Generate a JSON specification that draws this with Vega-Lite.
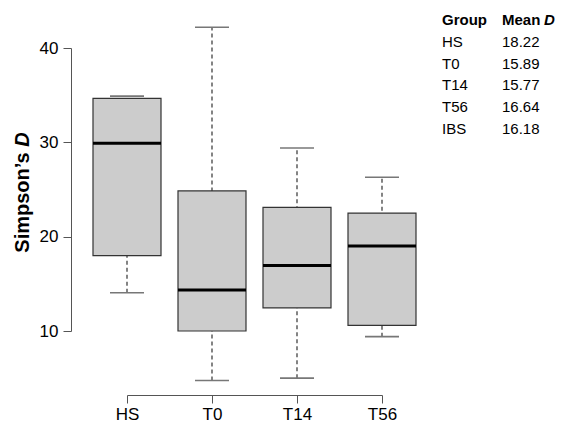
{
  "$schema": "https://vega.github.io/schema/vega-lite/v6.json",
  "width": 255,
  "height": 283,
  "autosize": {"type": "none"},
  "padding": {"left": 127, "top": 48, "right": 199, "bottom": 93},
  "background": "white",
  "config": {"view": {"stroke": null}, "font": "Liberation Sans", "tick": {"opacity": 1}},
  "datasets": {
    "boxes": [
      {"Group": "HS", "lower": 14.05, "q1": 18.0, "median": 29.9, "q3": 34.65, "upper": 34.9},
      {"Group": "T0", "lower": 4.75, "q1": 10.0, "median": 14.35, "q3": 24.85, "upper": 42.2},
      {"Group": "T14", "lower": 5.0, "q1": 12.45, "median": 16.95, "q3": 23.1, "upper": 29.4},
      {"Group": "T56", "lower": 9.4, "q1": 10.6, "median": 19.0, "q3": 22.5, "upper": 26.3}
    ],
    "means": [
      {"Group": "HS", "Mean": 18.22},
      {"Group": "T0", "Mean": 15.89},
      {"Group": "T14", "Mean": 15.77},
      {"Group": "T56", "Mean": 16.64},
      {"Group": "IBS", "Mean": 16.18}
    ],
    "header": [
      {"col": "g", "label": "Group"},
      {"col": "m", "label": "Mean"}
    ],
    "headerItalic": [
      {"col": "m", "label": "D"}
    ]
  },
  "layer": [
    {
      "data": {"name": "boxes"},
      "resolve": {"axis": {"y": "independent"}},
      "layer": [
        {
          "mark": {"type": "rule", "color": "#333333", "strokeWidth": 1.2, "strokeDash": [4, 3]},
          "encoding": {
            "x": {
              "field": "Group", "type": "nominal", "sort": ["HS", "T0", "T14", "T56"],
              "scale": {"type": "point", "padding": 0},
              "axis": {
                "orient": "bottom", "offset": 64, "title": null, "labelAngle": 0,
                "domainColor": "#555555", "tickColor": "#555555", "tickSize": 8,
                "labelFontSize": 17, "labelColor": "black", "labelPadding": 3, "grid": false
              }
            },
            "y": {
              "field": "lower", "type": "quantitative",
              "scale": {"domain": [10, 40], "nice": false, "zero": false},
              "axis": {
                "orient": "left", "offset": 56, "values": [10, 20, 30, 40], "grid": false,
                "domainColor": "#555555", "tickColor": "#555555", "tickSize": 8,
                "labelFontSize": 17, "labelColor": "black", "labelPadding": 5,
                "title": "Simpson’s", "titleFontSize": 20, "titleFontWeight": "bold",
                "titleColor": "black", "titleBaseline": "middle", "titleAngle": -90,
                "titleX": -49, "titleY": 154
              }
            },
            "y2": {"field": "upper"}
          }
        },
        {
          "mark": {"type": "tick", "color": "#777777", "thickness": 1.6, "size": 34, "opacity": 1},
          "encoding": {
            "x": {"field": "Group", "type": "nominal", "sort": ["HS", "T0", "T14", "T56"]},
            "y": {
              "field": "upper", "type": "quantitative",
              "axis": {
                "orient": "left", "offset": 56, "domain": false, "ticks": false, "labels": false, "grid": false,
                "title": "D", "titleFontSize": 20, "titleFontWeight": "bold", "titleFontStyle": "italic",
                "titleColor": "black", "titleBaseline": "middle", "titleAngle": -90,
                "titleX": -49, "titleY": 91
              }
            }
          }
        },
        {
          "mark": {"type": "tick", "color": "#777777", "thickness": 1.6, "size": 34, "opacity": 1},
          "encoding": {
            "x": {"field": "Group", "type": "nominal", "sort": ["HS", "T0", "T14", "T56"]},
            "y": {"field": "lower", "type": "quantitative", "axis": null}
          }
        },
        {
          "mark": {"type": "bar", "size": 68, "fill": "#cccccc", "stroke": "#333333", "strokeWidth": 1.2, "opacity": 1},
          "encoding": {
            "x": {"field": "Group", "type": "nominal", "sort": ["HS", "T0", "T14", "T56"]},
            "y": {"field": "q1", "type": "quantitative", "axis": null},
            "y2": {"field": "q3"}
          }
        },
        {
          "mark": {"type": "tick", "color": "black", "thickness": 3, "size": 68, "opacity": 1},
          "encoding": {
            "x": {"field": "Group", "type": "nominal", "sort": ["HS", "T0", "T14", "T56"]},
            "y": {"field": "median", "type": "quantitative", "axis": null}
          }
        }
      ]
    },
    {
      "layer": [
        {
          "data": {"name": "means"},
          "mark": {"type": "text", "align": "left", "baseline": "middle", "fontSize": 15, "color": "black"},
          "encoding": {
            "x": {"datum": "g", "type": "nominal", "scale": {"type": "point", "domain": ["g", "m"], "range": [315, 375], "padding": 0}, "axis": null},
            "y": {"field": "Group", "type": "nominal", "scale": {"type": "point", "domain": ["header", "HS", "T0", "T14", "T56", "IBS"], "range": [-28, 81], "padding": 0}, "axis": null},
            "text": {"field": "Group"}
          }
        },
        {
          "data": {"name": "means"},
          "mark": {"type": "text", "align": "left", "baseline": "middle", "fontSize": 15, "color": "black"},
          "encoding": {
            "x": {"datum": "m", "type": "nominal"},
            "y": {"field": "Group", "type": "nominal"},
            "text": {"field": "Mean", "format": ".2f"}
          }
        },
        {
          "data": {"name": "header"},
          "mark": {"type": "text", "align": "left", "baseline": "middle", "fontSize": 15, "fontWeight": "bold", "color": "black"},
          "encoding": {
            "x": {"field": "col", "type": "nominal"},
            "y": {"datum": "header", "type": "nominal"},
            "text": {"field": "label"}
          }
        },
        {
          "data": {"name": "headerItalic"},
          "mark": {"type": "text", "align": "left", "baseline": "middle", "fontSize": 15, "fontWeight": "bold", "fontStyle": "italic", "color": "black", "dx": 42},
          "encoding": {
            "x": {"field": "col", "type": "nominal"},
            "y": {"datum": "header", "type": "nominal"},
            "text": {"field": "label"}
          }
        }
      ]
    }
  ],
  "resolve": {"scale": {"x": "independent", "y": "independent"}, "axis": {"x": "independent", "y": "independent"}}
}
